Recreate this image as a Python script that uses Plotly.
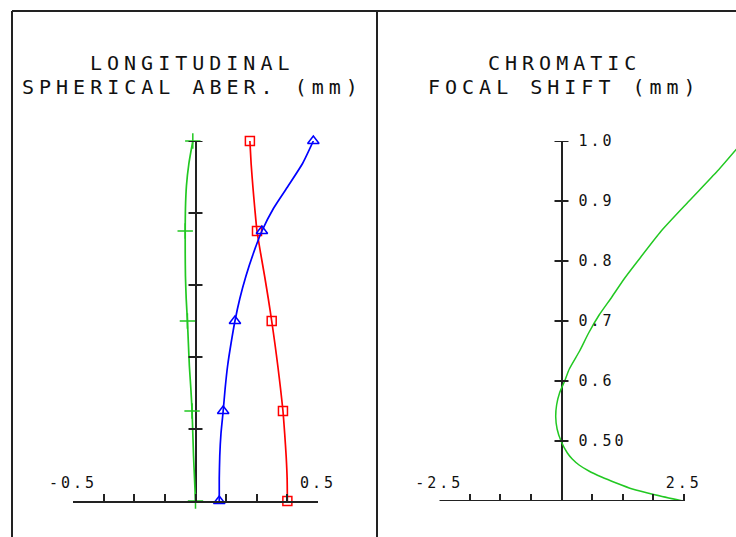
import plotly.graph_objects as go

W, H = 736, 537

# ---------------- data: longitudinal spherical aberration ----------------
pupil = [0, 0.0625, 0.125, 0.1875, 0.25, 0.3125, 0.375, 0.4375, 0.5,
         0.5625, 0.625, 0.6875, 0.75, 0.8125, 0.875, 0.9375, 1.0]
lsa_blue = [0.097, 0.097, 0.099, 0.104, 0.113, 0.121, 0.131, 0.145, 0.161,
            0.181, 0.206, 0.236, 0.271, 0.318, 0.378, 0.437, 0.481]
lsa_red = [0.375, 0.374, 0.370, 0.364, 0.357, 0.347, 0.336, 0.324, 0.311,
           0.297, 0.282, 0.266, 0.251, 0.242, 0.234, 0.227, 0.222]
lsa_green = [0.000, -0.004, -0.008, -0.011, -0.014, -0.019, -0.025, -0.029, -0.033,
             -0.038, -0.041, -0.042, -0.042, -0.041, -0.037, -0.027, -0.011]
marker_pupil = [0, 0.25, 0.5, 0.75, 1.0]

# ---------------- data: chromatic focal shift ----------------
wavelength = [0.40, 0.41, 0.42, 0.43, 0.44, 0.45, 0.46, 0.47, 0.48, 0.50, 0.52,
              0.54, 0.56, 0.58, 0.60, 0.62, 0.65, 0.68, 0.71, 0.74, 0.77, 0.80,
              0.85, 0.90, 0.95, 1.00]
focal_shift = [2.48, 1.93, 1.45, 1.12, 0.82, 0.56, 0.36, 0.22, 0.12, -0.01, -0.09,
               -0.118, -0.10, -0.04, 0.065, 0.16, 0.37, 0.555, 0.77, 1.03, 1.28, 1.56,
               2.04, 2.61, 3.19, 3.72]

# ---------------- ticks ----------------
lsa_xticks = [-0.5, -0.375, -0.25, -0.125, 0, 0.125, 0.25, 0.375, 0.5]
lsa_xlabels = ["-0.5", "", "", "", "", "", "", "", "0.5"]
lsa_yticks = [0.2, 0.4, 0.6, 0.8, 1.0]
cfs_xticks = [-2.5, -1.875, -1.25, -0.625, 0, 0.625, 1.25, 1.875, 2.5]
cfs_xlabels = ["-2.5", "", "", "", "", "", "", "", "2.5"]
cfs_yticks = [0.5, 0.6, 0.7, 0.8, 0.9, 1.0]
cfs_ylabels = ["0.50", "0.6", "0.7", "0.8", "0.9", "1.0"]

titles_left = ["LONGITUDINAL", "SPHERICAL ABER. (mm)"]
titles_right = ["CHROMATIC", "FOCAL SHIFT (mm)"]

# ---------------- style ----------------
FONT = "DejaVu Sans Mono"
AX = "#222222"
BLUE, RED, GREEN = "#0000ff", "#ff0000", "#22c822"


def sp(text, px):
    return f'<span style="letter-spacing:{px}px">{text}</span>' if text else ""


def fx(px):
    return px / W


def fy(py):
    return 1 - py / H


# pixel geometry
y_top, y_bot = 141, 501
L_x0, L_x1 = 73, 318
R_x0, R_x1 = 439.3, 683.7
R_ppu = (R_x1 - R_x0) / 5.0
R_right = -2.5 + (W - R_x0) / R_ppu
R_zero_px = R_x0 + 2.5 * R_ppu

fig = go.Figure()

idx = [pupil.index(p) for p in marker_pupil]

# left panel traces
for vals, col, sym, size in [(lsa_green, GREEN, "cross-thin-open", 11),
                             (lsa_red, RED, "square-open", 9),
                             (lsa_blue, BLUE, "triangle-up-open", 10)]:
    fig.add_trace(go.Scatter(x=vals, y=pupil, mode="lines",
                             line=dict(color=col, width=1.7, shape="spline", smoothing=0.6),
                             xaxis="x", yaxis="y", hoverinfo="skip"))
    fig.add_trace(go.Scatter(x=[vals[i] for i in idx], y=marker_pupil, mode="markers",
                             marker=dict(symbol=sym, size=size, color=col,
                                         line=dict(color=col, width=1.5)),
                             cliponaxis=False, xaxis="x", yaxis="y", hoverinfo="skip"))

# right panel trace
fig.add_trace(go.Scatter(x=focal_shift, y=wavelength, mode="lines",
                         line=dict(color=GREEN, width=1.5, shape="spline", smoothing=0.6),
                         xaxis="x2", yaxis="y2", hoverinfo="skip"))

tickfont = dict(family=FONT, size=15, color="#111111")
TLS = 3

fig.update_layout(
    width=W, height=H,
    margin=dict(l=0, r=0, t=0, b=0, pad=0, autoexpand=False),
    paper_bgcolor="white", plot_bgcolor="white",
    showlegend=False,
    xaxis=dict(domain=[fx(L_x0), fx(L_x1)], range=[-0.5, 0.5], anchor="y",
               automargin=False,
               showline=True, linecolor=AX, linewidth=2,
               ticks="inside", ticklen=7, tickwidth=2, tickcolor=AX,
               tickmode="array", tickvals=lsa_xticks,
               ticktext=[sp(t, TLS) for t in lsa_xlabels],
               ticklabelposition="inside", ticklabeloverflow="allow",
               ticklabelstandoff=3, tickfont=tickfont,
               showgrid=False, zeroline=True, zerolinecolor=AX, zerolinewidth=2),
    yaxis=dict(domain=[fy(y_bot), fy(y_top)], range=[0, 1], anchor="x",
               automargin=False,
               showline=False, showticklabels=False, ticks="",
               showgrid=False, zeroline=False),
    xaxis2=dict(domain=[fx(R_x0), 1.0], range=[-2.5, R_right], anchor="y2",
                automargin=False, showline=False,
                ticks="inside", ticklen=7, tickwidth=2, tickcolor=AX,
                tickmode="array", tickvals=cfs_xticks,
                ticktext=[sp(t, TLS) for t in cfs_xlabels],
                ticklabelposition="inside", ticklabeloverflow="allow",
                ticklabelstandoff=3, tickfont=tickfont,
                showgrid=False, zeroline=True, zerolinecolor=AX, zerolinewidth=2),
    yaxis2=dict(domain=[fy(y_bot), fy(y_top)], range=[0.4, 1.0],
                anchor="free", position=fx(R_zero_px), side="right",
                automargin=False,
                showline=False, ticks="", tickmode="array",
                tickvals=cfs_yticks, ticktext=[sp(t, TLS) for t in cfs_ylabels],
                tickfont=tickfont, ticklabelstandoff=16,
                showgrid=False, zeroline=False),
)

shapes = []
# frame
for x0, y0, x1, y1 in [(12, 11, W, 11), (12, 11, 12, H), (377, 11, 377, H)]:
    shapes.append(dict(type="line", xref="paper", yref="paper",
                       x0=fx(x0), y0=fy(y0), x1=fx(x1), y1=fy(y1),
                       line=dict(color=AX, width=2)))
# right x axis line
shapes.append(dict(type="line", xref="x2", yref="y2", x0=cfs_xticks[0], x1=cfs_xticks[-1],
                   y0=0.4, y1=0.4, line=dict(color=AX, width=2)))
# crossing y ticks
for xr, yr, vals in [("x", "y", lsa_yticks), ("x2", "y2", cfs_yticks)]:
    for v in vals:
        shapes.append(dict(type="line", xref=xr, yref=yr, xsizemode="pixel", xanchor=0,
                           x0=-7, x1=7, y0=v, y1=v, line=dict(color=AX, width=2)))
fig.update_layout(shapes=shapes)

# titles
title_font = dict(family=FONT, size=20, color="#111111")
for cx, lines in [(190, titles_left), (R_zero_px, titles_right)]:
    for text, cy in zip(lines, [63, 87]):
        fig.add_annotation(text=sp(text, 5), x=fx(cx), y=fy(cy), xref="paper", yref="paper",
                           xanchor="center", yanchor="middle", showarrow=False,
                           xshift=2.5, font=title_font)

fig.write_html("out.html",
               config={"displayModeBar": False},
               post_script="document.body.style.margin='0px';"
                           "document.body.style.overflow='hidden';")
